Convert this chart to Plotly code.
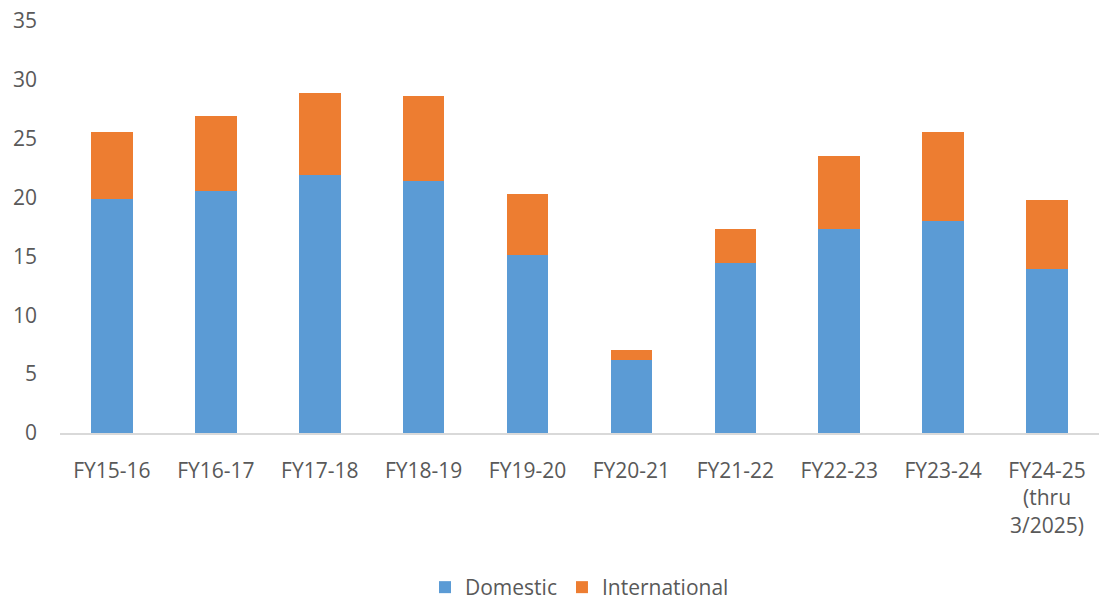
import plotly.graph_objects as go

categories = ["FY15-16", "FY16-17", "FY17-18", "FY18-19", "FY19-20", "FY20-21",
              "FY21-22", "FY22-23", "FY23-24", "FY24-25<br>(thru<br>3/2025)"]
domestic = [19.9, 20.6, 21.9, 21.4, 15.1, 6.2, 14.4, 17.3, 18.0, 13.9]
total = [25.6, 26.9, 28.9, 28.6, 20.3, 7.05, 17.3, 23.5, 25.6, 19.8]
international = [round(t - d, 2) for t, d in zip(total, domestic)]
y_ticks = [0, 5, 10, 15, 20, 25, 30, 35]

fig = go.Figure()
fig.add_trace(go.Bar(name="Domestic", x=categories, y=domestic,
                     marker=dict(color="#5B9BD5", line=dict(width=0)), width=0.4))
fig.add_trace(go.Bar(name="International", x=categories, y=international,
                     marker=dict(color="#ED7D31", line=dict(width=0)), width=0.4))

font = dict(family="Open Sans, Noto Sans, sans-serif", size=21, color="#595959")
fig.update_layout(
    barmode="stack",
    width=1099, height=601,
    margin=dict(l=60, r=0, t=21, b=168, autoexpand=False),
    paper_bgcolor="white", plot_bgcolor="white",
    font=font,
    showlegend=True,
    legend=dict(orientation="h", x=0.5, xanchor="center", y=-0.375, yanchor="middle",
                traceorder="normal", font=font, itemsizing="constant"),
    xaxis=dict(showgrid=False, showline=True, linecolor="#D9D9D9", linewidth=1.5,
               ticks="", tickfont=font, tickangle=0, ticklabelstandoff=18,
               automargin=False),
    yaxis=dict(range=[0, 35], tickvals=y_ticks, showgrid=False, zeroline=False,
               showline=False, ticks="", tickfont=font, ticklabelstandoff=22,
               automargin=False),
)
fig.write_html("out.html")
